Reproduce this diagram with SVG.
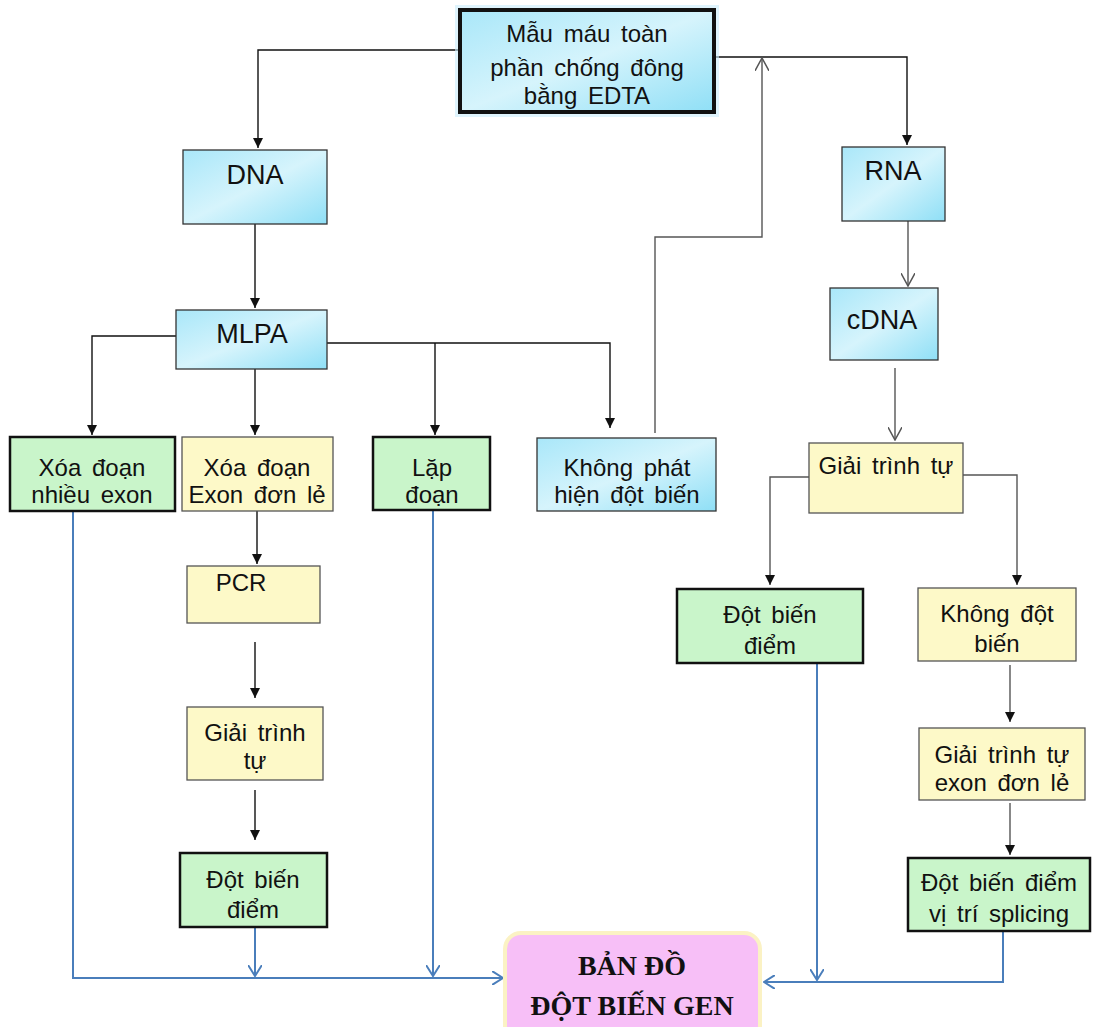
<svg xmlns="http://www.w3.org/2000/svg" width="1097" height="1027" viewBox="0 0 1097 1027">
<style>
text{font-family:"Liberation Sans",Arial,sans-serif;font-size:24px;fill:#111;text-anchor:middle;word-spacing:4px}
.big{font-size:27px;word-spacing:0}
.gen{font-family:"Liberation Serif","Times New Roman",serif;font-weight:bold;font-size:28px;word-spacing:0}
.blue{fill:url(#cy);stroke:#333;stroke-width:1.3}
.yel{fill:#fdf9c8;stroke:#555;stroke-width:1.3}
.grn{fill:#c9f5ca;stroke:#111;stroke-width:2.5}
.blk{fill:none;stroke:#111;stroke-width:1.4}
.gry{fill:none;stroke:#555;stroke-width:1.4}
.bl{fill:none;stroke:#4a7ebb;stroke-width:2}
</style>
<defs>
<linearGradient id="cy" x1="0" y1="0" x2="1" y2="1">
<stop offset="0" stop-color="#a9e7f9"/>
<stop offset="0.5" stop-color="#d6f4fc"/>
<stop offset="1" stop-color="#8fdff6"/>
</linearGradient>
<marker id="af" viewBox="0 0 10 10" refX="10" refY="5" markerWidth="10" markerHeight="10" markerUnits="userSpaceOnUse" orient="auto">
<path d="M0,0 L10,5 L0,10 z" fill="#111"/>
</marker>
<marker id="ag" viewBox="0 0 12 12" refX="11" refY="6" markerWidth="14" markerHeight="14" markerUnits="userSpaceOnUse" orient="auto">
<path d="M0,0 L11,6 L0,12" fill="none" stroke="#555" stroke-width="1.3"/>
</marker>
<marker id="ab" viewBox="0 0 12 14" refX="11" refY="7" markerWidth="12" markerHeight="14" markerUnits="userSpaceOnUse" orient="auto">
<path d="M0,0 L11,7 L0,14" fill="none" stroke="#4a7ebb" stroke-width="2"/>
</marker>
</defs>
<rect width="1097" height="1027" fill="#fff"/>

<g id="connectors">
<path class="blk" d="M460,50 H258 V148" marker-end="url(#af)"/>
<path class="blk" d="M714,57 H907 V145" marker-end="url(#af)"/>
<path class="blk" d="M255,224 V308" marker-end="url(#af)"/>
<path class="blk" d="M176,336 H92 V435" marker-end="url(#af)"/>
<path class="blk" d="M255,369 V435" marker-end="url(#af)"/>
<path class="blk" d="M327,343 H610 V428" marker-end="url(#af)"/>
<path class="blk" d="M435,343 V435" marker-end="url(#af)"/>
<path class="gry" d="M655,433 V237 H762 V58" marker-end="url(#ag)"/>
<path class="gry" d="M908,221 V286" marker-end="url(#ag)"/>
<path class="gry" d="M895,368 V440" marker-end="url(#ag)"/>
<path class="gry" d="M809,477 H770 V585" marker-end="url(#af)"/>
<path class="gry" d="M963,475 H1017 V585" marker-end="url(#af)"/>
<path class="blk" d="M257,511 V564" marker-end="url(#af)"/>
<path class="blk" d="M255,642 V698" marker-end="url(#af)"/>
<path class="blk" d="M255,790 V840" marker-end="url(#af)"/>
<path class="gry" d="M1010,665 V722" marker-end="url(#af)"/>
<path class="gry" d="M1010,803 V855" marker-end="url(#af)"/>
<path class="bl" d="M73,511 V978 H503" marker-end="url(#ab)"/>
<path class="bl" d="M255,927 V976" marker-end="url(#ab)"/>
<path class="bl" d="M433,511 V976" marker-end="url(#ab)"/>
<path class="bl" d="M817,663 V980" marker-end="url(#ab)"/>
<path class="bl" d="M1003,931 V982 H764" marker-end="url(#ab)"/>
</g>

<g id="n-mau">
<rect x="455" y="5" width="264" height="112" fill="#c9ecfb" opacity="0.6"/>
<rect x="460" y="10" width="254" height="102" fill="url(#cy)" stroke="#111" stroke-width="4"/>
<text x="587" y="42">Mẫu máu toàn</text>
<text x="587" y="76">phần chống đông</text>
<text x="587" y="104">bằng EDTA</text>
</g>
<g id="n-dna"><rect class="blue" x="183" y="150" width="144" height="74"/><text class="big" x="255" y="184">DNA</text></g>
<g id="n-mlpa"><rect class="blue" x="176" y="310" width="151" height="59"/><text class="big" x="252" y="343">MLPA</text></g>
<g id="n-rna"><rect class="blue" x="842" y="147" width="103" height="74"/><text class="big" x="893" y="180">RNA</text></g>
<g id="n-cdna"><rect class="blue" x="830" y="288" width="108" height="72"/><text class="big" x="882" y="329">cDNA</text></g>

<g id="n-xoa-nhieu"><rect class="grn" x="10" y="437" width="165" height="74"/><text x="92" y="476">Xóa đoạn</text><text x="92" y="503">nhiều exon</text></g>
<g id="n-xoa-don"><rect class="yel" x="182" y="437" width="151" height="74"/><text x="257" y="476">Xóa đoạn</text><text x="257" y="503">Exon đơn lẻ</text></g>
<g id="n-lap"><rect class="grn" x="373" y="437" width="117" height="73"/><text x="432" y="476">Lặp</text><text x="432" y="503">đoạn</text></g>
<g id="n-khong-phat-hien"><rect class="blue" x="537" y="438" width="179" height="73"/><text x="627" y="476">Không phát</text><text x="627" y="503">hiện đột biến</text></g>
<g id="n-giai-r"><rect class="yel" x="809" y="443" width="154" height="70"/><text x="886" y="474">Giải trình tự</text></g>

<g id="n-pcr"><rect class="yel" x="187" y="566" width="133" height="57"/><text x="241" y="591">PCR</text></g>
<g id="n-giai-l"><rect class="yel" x="187" y="707" width="136" height="73"/><text x="255" y="741">Giải trình</text><text x="255" y="769">tự</text></g>
<g id="n-dot-l"><rect class="grn" x="180" y="853" width="147" height="74"/><text x="253" y="888">Đột biến</text><text x="253" y="918">điểm</text></g>

<g id="n-dot-m"><rect class="grn" x="677" y="589" width="186" height="74"/><text x="770" y="623">Đột biến</text><text x="770" y="654">điểm</text></g>
<g id="n-khong-dot"><rect class="yel" x="918" y="588" width="158" height="73"/><text x="997" y="622">Không đột</text><text x="997" y="652">biến</text></g>
<g id="n-giai-exon"><rect class="yel" x="919" y="728" width="166" height="72"/><text x="1002" y="763">Giải trình tự</text><text x="1002" y="791">exon đơn lẻ</text></g>
<g id="n-splicing"><rect class="grn" x="908" y="858" width="182" height="73"/><text x="999" y="891">Đột biến điểm</text><text x="999" y="922">vị trí splicing</text></g>

<g id="n-ban-do">
<rect x="505" y="933" width="255" height="110" rx="16" fill="#f7bff7" stroke="#fbf2c4" stroke-width="4"/>
<text class="gen" x="632" y="975">BẢN ĐỒ</text>
<text class="gen" x="632" y="1015">ĐỘT BIẾN GEN</text>
</g>
</svg>
